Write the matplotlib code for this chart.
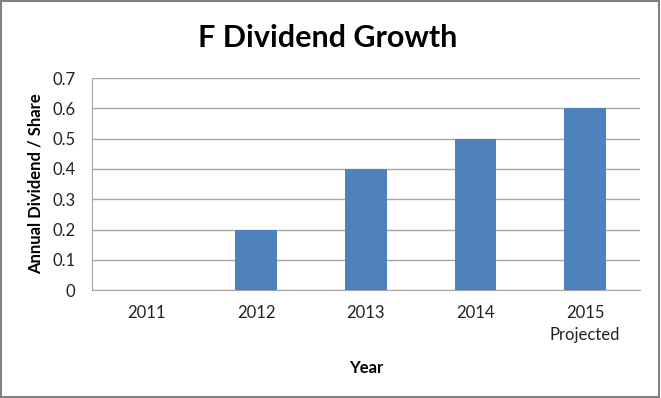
import matplotlib
matplotlib.use("Agg")
import matplotlib.pyplot as plt
import numpy as np
from matplotlib.patches import Rectangle

years = ["2011", "2012", "2013", "2014", "2015\nProjected"]
dividends = [0.0, 0.2, 0.4, 0.5, 0.6]
yticks = [0, 0.1, 0.2, 0.3, 0.4, 0.5, 0.6, 0.7]

plt.rcParams['font.family'] = ['Lato', 'DejaVu Sans']

fig = plt.figure(figsize=(6.61, 3.98), dpi=100)
ax = fig.add_axes([0.139, 0.271, 0.829, 0.533])

x = np.arange(len(years))
ax.bar(x, dividends, width=0.38, color='#4F81BD', zorder=3)

ax.set_xlim(-0.5, len(years) - 0.5)
ax.set_ylim(0, 0.7)
ax.set_yticks(yticks)
ax.set_yticklabels([f"{v:g}" for v in yticks])
ax.set_xticks(x)
ax.set_xticklabels(years, linespacing=1.45, va='top')
ax.grid(axis='y', color='#A6A6A6', linewidth=1, zorder=0)

for s in ['top', 'right']:
    ax.spines[s].set_visible(False)
ax.spines['left'].set_color('#A6A6A6')
ax.spines['bottom'].set_color('#A6A6A6')
ax.tick_params(axis='both', length=0, labelsize=12, colors='#222222')
ax.tick_params(axis='x', pad=11)
ax.tick_params(axis='y', pad=12)

ax.set_ylabel("Annual Dividend / Share", fontsize=12, fontweight='bold', labelpad=6)
ax.set_xlabel("Year", fontsize=12, fontweight='bold', labelpad=12)
fig.text(0.496, 0.905, "F Dividend Growth", ha='center', va='center',
         fontsize=22, fontweight='bold')

fig.patches.append(Rectangle((0.002, 0.003), 0.995, 0.994, transform=fig.transFigure,
                             fill=False, edgecolor='#808080', linewidth=1.5))

fig.savefig("out.png", dpi=100)
